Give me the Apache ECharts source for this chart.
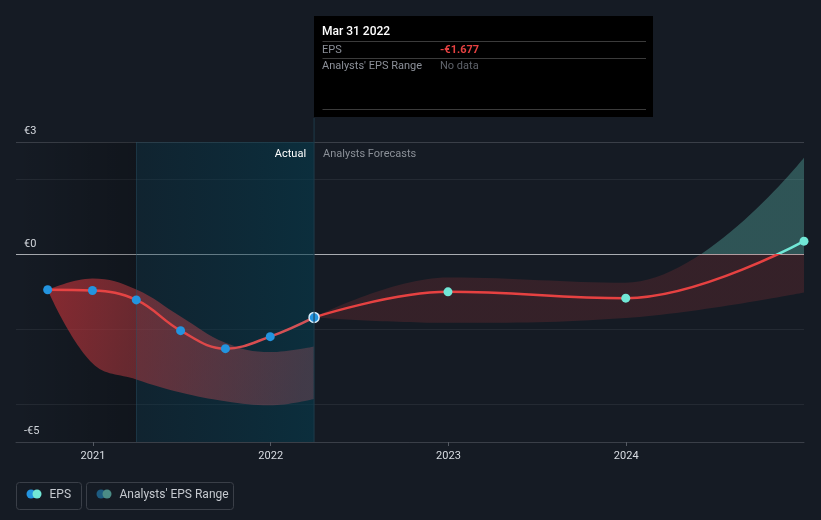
<!DOCTYPE html>
<html><head><meta charset="utf-8">
<script src="https://cdn.jsdelivr.net/npm/echarts@6/dist/echarts.min.js"></script>
<style>html,body{margin:0;padding:0;background:#151b24;}#c{width:821px;height:520px;}</style>
</head><body><div id="c"></div>
<script>
// ---- data ----
const actualDates = ['2020-09-30','2020-12-31','2021-03-31','2021-06-30','2021-09-30','2021-12-31','2022-03-31'];
const actualEps = [-0.94,-0.96,-1.21,-2.03,-2.51,-2.19,-1.677];
const pastRangeHigh = [-0.94,-0.64,-0.93,-1.65,-2.35,-2.6,-2.45];
const pastRangeLow = [-0.94,-2.9,-3.33,-3.68,-3.91,-4.02,-3.85];
const forecastDates = ['2022-03-31','2022-12-31','2023-12-31','2024-12-31'];
const forecastEps = [-1.677,-0.995,-1.165,0.355];
const forecastHigh = [-1.677,-0.61,-0.75,2.58];
const forecastLow = [-1.677,-1.82,-1.69,-1.01];
const yTickLabels = {'3':'€3','0':'€0','-5':'-€5'};
const axisStart = '2020-07-27', axisEnd = '2024-12-31';
const highlightStart = '2021-03-31', highlightEnd = '2022-03-31';
const tooltipDate = 'Mar 31 2022', tooltipEps = '-€1.677';

const T = s => { const [y,m,d] = s.split('-').map(Number); return new Date(y, m-1, d).getTime(); };
const pts = (ds, vs) => ds.map((d,i) => [T(d), vs[i]]);
const diff = (ds, hi, lo) => ds.map((d,i) => [T(d), +(hi[i]-lo[i]).toFixed(3)]);
const YEAR = 365.25 * 24 * 3600 * 1000;

const RED = '#e64141', TEAL = '#71e7d6', BLUE = '#2394df';
const FONT = 'Roboto, "Noto Sans", sans-serif';

const option = {
  backgroundColor: '#151b24',
  animation: false,
  textStyle: {fontFamily: FONT},
  grid: {left: 16, right: 17, top: 142, bottom: 78, containLabel: false},
  xAxis: {
    type: 'time', min: T(axisStart), max: T(axisEnd), minInterval: YEAR * 0.99, maxInterval: YEAR * 1.01,
    axisLine: {show: true, onZero: false, lineStyle: {color: '#3a3f48', width: 1}},
    axisTick: {show: true, length: 4, lineStyle: {color: '#555a63'}},
    axisLabel: {color: '#d8dce2', fontSize: 11, margin: 9, fontFamily: FONT, showMinLabel: false, showMaxLabel: false,
      formatter: v => String(new Date(v).getFullYear())},
    splitLine: {show: false}
  },
  yAxis: {
    type: 'value', min: -5, max: 3, interval: 1,
    axisLine: {show: false}, axisTick: {show: false},
    axisLabel: {inside: true, margin: 8, color: '#d8dce2', fontSize: 11, fontFamily: FONT,
      verticalAlign: 'bottom', padding: [0,0,5,0],
      formatter: v => yTickLabels[String(v)] || ''},
    splitLine: {show: true, lineStyle: {width: 1.2, color: [
      'transparent','#242a33','transparent','#242a33','transparent','#a9acb1','transparent','#242a33','#3a3f48']}}
  },
  visualMap: [
    {type: 'piecewise', show: false, seriesIndex: 4, dimension: 1,
      pieces: [{gt: -100, lte: 0, color: 'rgba(230,65,65,0.55)'}, {gt: 0, lte: 100, color: TEAL}]},
    {type: 'piecewise', show: false, seriesIndex: 5, dimension: 1,
      pieces: [{gt: -100, lte: 0, color: RED}, {gt: 0, lte: 100, color: TEAL}]}
  ],
  series: [
    { // past EPS line
      type: 'line', data: pts(actualDates, actualEps), smooth: 0.4, showSymbol: false, z: 3,
      lineStyle: {width: 2.5, color: {type: 'linear', x: 0, y: 0, x2: 1, y2: 0,
        colorStops: [{offset: 0, color: '#e84343'}, {offset: 0.45, color: '#e34444'}, {offset: 1, color: '#cf5459'}]}},
      markArea: {silent: true, data: [
        [{xAxis: T(axisStart), itemStyle: {color: {type: 'linear', x: 0, y: 0, x2: 1, y2: 0,
            colorStops: [{offset: 0, color: 'rgba(0,0,0,0)'}, {offset: 1, color: 'rgba(0,0,0,0.22)'}]}}},
         {xAxis: T(highlightStart)}],
        [{xAxis: T(highlightStart), itemStyle: {color: {type: 'linear', x: 0, y: 0, x2: 1, y2: 0,
            colorStops: [{offset: 0, color: 'rgba(5,55,75,0.3)'}, {offset: 1, color: 'rgba(5,59,77,0.6)'}]}}},
         {xAxis: T(highlightEnd)}]
      ]},
      markLine: {silent: true, symbol: 'none', label: {show: false},
        lineStyle: {color: 'rgba(40,80,100,0.45)', width: 1, type: 'solid'},
        data: [{xAxis: T(highlightStart)}]}
    },
    { // past range lower
      type: 'line', data: pts(actualDates, pastRangeLow), stack: 'past', stackStrategy: 'all', smooth: 0.4, showSymbol: false,
      lineStyle: {width: 0, opacity: 0}, z: 2
    },
    { // past range band
      type: 'line', data: diff(actualDates, pastRangeHigh, pastRangeLow), stack: 'past', stackStrategy: 'all', smooth: 0.4, showSymbol: false,
      lineStyle: {width: 0, opacity: 0}, z: 2,
      areaStyle: {opacity: 1, color: {type: 'linear', x: 0, y: 0, x2: 1, y2: 0.5,
        colorStops: [{offset: 0, color: 'rgba(200,50,56,0.64)'}, {offset: 0.35, color: 'rgba(190,60,66,0.5)'}, {offset: 1, color: 'rgba(175,85,98,0.33)'}]}}
    },
    { // forecast range lower
      type: 'line', data: pts(forecastDates, forecastLow), stack: 'fc', stackStrategy: 'all', smooth: 0.4, showSymbol: false,
      lineStyle: {width: 0, opacity: 0}, z: 2
    },
    { // forecast range band
      type: 'line', data: diff(forecastDates, forecastHigh, forecastLow), stack: 'fc', stackStrategy: 'all', smooth: 0.4, showSymbol: false,
      lineStyle: {width: 0, opacity: 0}, z: 2,
      areaStyle: {opacity: 0.28}
    },
    { // forecast EPS line
      type: 'line', data: pts(forecastDates, forecastEps), smooth: 0.4, showSymbol: false, z: 3,
      lineStyle: {width: 2.5}
    },
    { // actual dots
      type: 'scatter', z: 5, symbolSize: 9,
      data: pts(actualDates, actualEps).map((p,i,a) => i === a.length-1
        ? {value: p, symbolSize: 10, itemStyle: {color: BLUE, borderColor: '#d6ecfa', borderWidth: 1.5, opacity: 1}}
        : {value: p}),
      itemStyle: {color: BLUE, opacity: 1}
    },
    { // forecast dots
      type: 'scatter', z: 5, symbolSize: 9,
      data: pts(forecastDates, forecastEps).slice(1),
      itemStyle: {color: TEAL, opacity: 1}
    }
  ]
};

const chart = echarts.init(document.getElementById('c'));
chart.setOption(option);

const px = chart.convertToPixel({gridIndex: 0}, [T(highlightEnd), 0])[0];
const yBot = chart.convertToPixel({gridIndex: 0}, [T(highlightEnd), -5])[1];
const yTopGrid = chart.convertToPixel({gridIndex: 0}, [T(highlightEnd), 3])[1];

const tipL = Math.round(px), tipT = 16, tipW = 339, tipH = 101;
const txt = (x, y, text, fill, extra) => ({type: 'text', x, y, style: Object.assign({text, fill, font: '11px ' + FONT, textVerticalAlign: 'middle'}, extra || {})});
const hline = (x1, x2, y, c) => ({type: 'line', shape: {x1, y1: y, x2, y2: y}, style: {stroke: c, lineWidth: 1}});

chart.setOption({graphic: [
  {type: 'line', z: 10, shape: {x1: px, y1: tipT + tipH + 1, x2: px, y2: yBot}, style: {stroke: '#1e3b49', lineWidth: 1}},
  Object.assign(txt(px - 8, yTopGrid + 12.5, 'Actual', '#ffffff', {textAlign: 'right'}), {z: 10}),
  Object.assign(txt(px + 9, yTopGrid + 12.5, 'Analysts Forecasts', '#8b9098', {textAlign: 'left'}), {z: 10}),
  {type: 'group', z: 100, children: [
    {type: 'rect', shape: {x: tipL, y: tipT, width: tipW, height: tipH}, style: {fill: '#000000'}},
    txt(tipL + 8, 31.5, tooltipDate, '#ffffff', {font: '500 12px ' + FONT}),
    hline(tipL + 8.5, tipL + 332, 41.5, '#3b3b3b'),
    txt(tipL + 8, 50, 'EPS', '#8c9099'),
    txt(tipL + 126, 50, tooltipEps, RED, {font: 'bold 11px ' + FONT}),
    hline(tipL + 8.5, tipL + 332, 58.5, '#3b3b3b'),
    txt(tipL + 8, 66.5, "Analysts' EPS Range", '#8c9099'),
    txt(tipL + 126, 66.5, 'No data', '#5f636b'),
    hline(tipL + 8.5, tipL + 332, 109.5, '#3b3b3b')
  ]},
  {type: 'group', children: [
    {type: 'rect', shape: {x: 16.5, y: 482.5, width: 65, height: 27, r: 3}, style: {fill: 'none', stroke: '#3a3f48', lineWidth: 1}},
    {type: 'circle', shape: {cx: 31, cy: 494, r: 4.5}, style: {fill: BLUE}},
    {type: 'circle', shape: {cx: 37, cy: 494, r: 4.5}, style: {fill: TEAL}},
    txt(49.5, 494.5, 'EPS', '#c5c9cf', {font: '12px ' + FONT}),
    {type: 'rect', shape: {x: 86.5, y: 482.5, width: 147, height: 27, r: 3}, style: {fill: 'none', stroke: '#3a3f48', lineWidth: 1}},
    {type: 'circle', shape: {cx: 101, cy: 494, r: 4.5}, style: {fill: '#1d5b80'}},
    {type: 'circle', shape: {cx: 107, cy: 494, r: 4.5}, style: {fill: '#4b8c86'}},
    txt(119.5, 494.5, "Analysts' EPS Range", '#c5c9cf', {font: '12px ' + FONT})
  ]}
]});
</script></body></html>
